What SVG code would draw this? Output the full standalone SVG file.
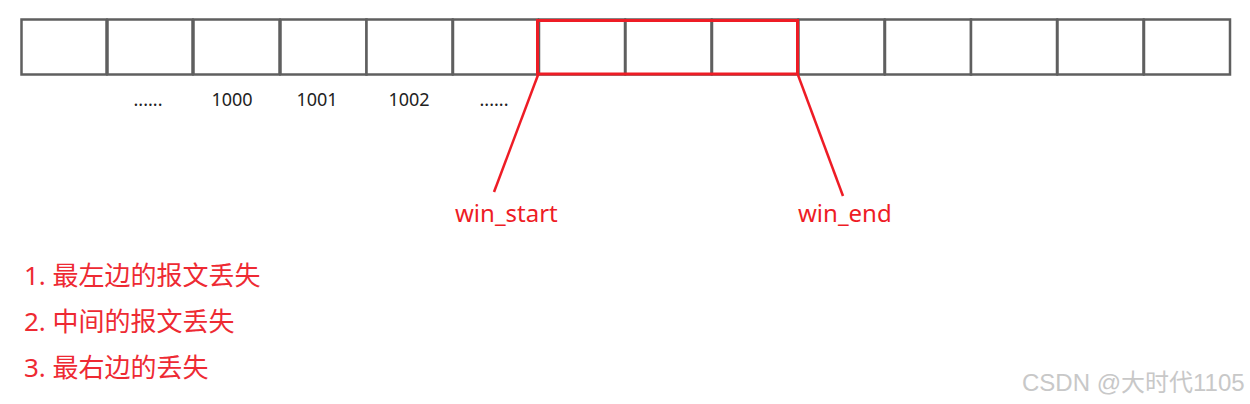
<svg xmlns="http://www.w3.org/2000/svg" width="1250" height="404" viewBox="0 0 1250 404">
<style>
.cell{fill:#fff;stroke:#5f5f5f;stroke-width:2.5}
.win{fill:none;stroke:#ee1c25;stroke-width:3}
.conn{stroke:#ee1c25;stroke-width:2.5;fill:none}
.num{font-family:"Noto Sans","Open Sans",sans-serif;font-size:18px;fill:#222;text-anchor:middle}
.lbl{font-family:"Noto Sans","Open Sans",sans-serif;font-size:24px;fill:#ee1c25}
.lst{font-family:"Noto Sans","Noto Sans CJK SC",sans-serif;font-size:26px;fill:#ee2a33}
.wm{font-family:"Liberation Sans","Noto Sans CJK SC",sans-serif;font-size:24px;fill:#c8c8c8}
</style>
<rect width="1250" height="404" fill="#fff"/>
<g id="cells">
<rect id="c1" class="cell" x="21.5" y="19.5" width="85" height="55"/>
<rect id="c2" class="cell" x="107.5" y="19.5" width="85" height="55"/>
<rect id="c3" class="cell" x="193.5" y="19.5" width="86" height="55"/>
<rect id="c4" class="cell" x="280.5" y="19.5" width="86" height="55"/>
<rect id="c5" class="cell" x="366.5" y="19.5" width="86" height="55"/>
<rect id="c6" class="cell" x="453" y="19.5" width="85" height="55"/>
<rect id="c7" class="cell" x="539" y="19.5" width="86" height="55"/>
<rect id="c8" class="cell" x="625.5" y="19.5" width="86" height="55"/>
<rect id="c9" class="cell" x="712" y="19.5" width="86" height="55"/>
<rect id="c10" class="cell" x="798.5" y="19.5" width="86" height="55"/>
<rect id="c11" class="cell" x="885" y="19.5" width="86" height="55"/>
<rect id="c12" class="cell" x="971" y="19.5" width="86" height="55"/>
<rect id="c13" class="cell" x="1057.5" y="19.5" width="86" height="55"/>
<rect id="c14" class="cell" x="1144" y="19.5" width="86" height="55"/>
</g>
<g id="window">
<rect class="win" x="537.5" y="20.5" width="260" height="53.5"/>
</g>
<g id="connectors">
<line class="conn" x1="538" y1="75" x2="494" y2="192"/>
<line class="conn" x1="798" y1="75" x2="843" y2="196"/>
</g>
<g id="numbers">
<text class="num" x="148" y="106">......</text>
<text class="num" x="232" y="106">1000</text>
<text class="num" x="317" y="106">1001</text>
<text class="num" x="409" y="106">1002</text>
<text class="num" x="494" y="106">......</text>
</g>
<g id="win_start"><text class="lbl" x="455" y="222">win_start</text></g>
<g id="win_end"><text class="lbl" x="798" y="222">win_end</text></g>
<g id="list">
<text class="lst" x="24" y="285">1. 最左边的报文丢失</text>
<text class="lst" x="24" y="331">2. 中间的报文丢失</text>
<text class="lst" x="24" y="377">3. 最右边的丢失</text>
</g>
<text class="wm" x="1022" y="391">CSDN @大时代1105</text>
</svg>
